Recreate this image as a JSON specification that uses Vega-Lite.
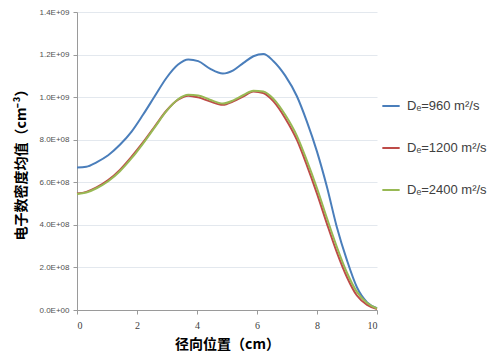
{
  "$schema": "https://vega.github.io/schema/vega-lite/v6.json",
  "width": 300,
  "height": 298,
  "autosize": {"type": "none"},
  "padding": {"left": 77, "top": 12, "right": 117, "bottom": 48},
  "background": "white",
  "data": {"values": [
    {"r":0,"n":0.669,"s":"Dₑ=960 m²/s"},{"r":0.31,"n":0.673,"s":"Dₑ=960 m²/s"},{"r":0.65,"n":0.694,"s":"Dₑ=960 m²/s"},{"r":1.04,"n":0.727,"s":"Dₑ=960 m²/s"},{"r":1.43,"n":0.776,"s":"Dₑ=960 m²/s"},{"r":1.82,"n":0.838,"s":"Dₑ=960 m²/s"},{"r":2.2,"n":0.917,"s":"Dₑ=960 m²/s"},{"r":2.59,"n":1.004,"s":"Dₑ=960 m²/s"},{"r":2.98,"n":1.09,"s":"Dₑ=960 m²/s"},{"r":3.37,"n":1.153,"s":"Dₑ=960 m²/s"},{"r":3.71,"n":1.177,"s":"Dₑ=960 m²/s"},{"r":4.04,"n":1.169,"s":"Dₑ=960 m²/s"},{"r":4.43,"n":1.134,"s":"Dₑ=960 m²/s"},{"r":4.86,"n":1.111,"s":"Dₑ=960 m²/s"},{"r":5.21,"n":1.126,"s":"Dₑ=960 m²/s"},{"r":5.55,"n":1.161,"s":"Dₑ=960 m²/s"},{"r":5.88,"n":1.192,"s":"Dₑ=960 m²/s"},{"r":6.21,"n":1.203,"s":"Dₑ=960 m²/s"},{"r":6.55,"n":1.169,"s":"Dₑ=960 m²/s"},{"r":6.94,"n":1.101,"s":"Dₑ=960 m²/s"},{"r":7.33,"n":1.004,"s":"Dₑ=960 m²/s"},{"r":7.66,"n":0.886,"s":"Dₑ=960 m²/s"},{"r":8.0,"n":0.744,"s":"Dₑ=960 m²/s"},{"r":8.33,"n":0.579,"s":"Dₑ=960 m²/s"},{"r":8.66,"n":0.39,"s":"Dₑ=960 m²/s"},{"r":9.0,"n":0.233,"s":"Dₑ=960 m²/s"},{"r":9.33,"n":0.107,"s":"Dₑ=960 m²/s"},{"r":9.67,"n":0.036,"s":"Dₑ=960 m²/s"},{"r":10,"n":0.009,"s":"Dₑ=960 m²/s"},
    {"r":0,"n":0.547,"s":"Dₑ=1200 m²/s"},{"r":0.31,"n":0.555,"s":"Dₑ=1200 m²/s"},{"r":0.65,"n":0.576,"s":"Dₑ=1200 m²/s"},{"r":1.04,"n":0.61,"s":"Dₑ=1200 m²/s"},{"r":1.43,"n":0.658,"s":"Dₑ=1200 m²/s"},{"r":1.82,"n":0.72,"s":"Dₑ=1200 m²/s"},{"r":2.2,"n":0.787,"s":"Dₑ=1200 m²/s"},{"r":2.59,"n":0.862,"s":"Dₑ=1200 m²/s"},{"r":2.98,"n":0.936,"s":"Dₑ=1200 m²/s"},{"r":3.37,"n":0.988,"s":"Dₑ=1200 m²/s"},{"r":3.71,"n":1.007,"s":"Dₑ=1200 m²/s"},{"r":4.04,"n":0.999,"s":"Dₑ=1200 m²/s"},{"r":4.43,"n":0.98,"s":"Dₑ=1200 m²/s"},{"r":4.86,"n":0.964,"s":"Dₑ=1200 m²/s"},{"r":5.21,"n":0.98,"s":"Dₑ=1200 m²/s"},{"r":5.55,"n":1.004,"s":"Dₑ=1200 m²/s"},{"r":5.88,"n":1.027,"s":"Dₑ=1200 m²/s"},{"r":6.21,"n":1.019,"s":"Dₑ=1200 m²/s"},{"r":6.55,"n":0.98,"s":"Dₑ=1200 m²/s"},{"r":6.94,"n":0.901,"s":"Dₑ=1200 m²/s"},{"r":7.33,"n":0.799,"s":"Dₑ=1200 m²/s"},{"r":7.66,"n":0.681,"s":"Dₑ=1200 m²/s"},{"r":8.0,"n":0.547,"s":"Dₑ=1200 m²/s"},{"r":8.33,"n":0.406,"s":"Dₑ=1200 m²/s"},{"r":8.66,"n":0.272,"s":"Dₑ=1200 m²/s"},{"r":9.0,"n":0.154,"s":"Dₑ=1200 m²/s"},{"r":9.33,"n":0.068,"s":"Dₑ=1200 m²/s"},{"r":9.67,"n":0.024,"s":"Dₑ=1200 m²/s"},{"r":10,"n":0.005,"s":"Dₑ=1200 m²/s"},
    {"r":0,"n":0.545,"s":"Dₑ=2400 m²/s"},{"r":0.31,"n":0.552,"s":"Dₑ=2400 m²/s"},{"r":0.65,"n":0.572,"s":"Dₑ=2400 m²/s"},{"r":1.04,"n":0.605,"s":"Dₑ=2400 m²/s"},{"r":1.43,"n":0.652,"s":"Dₑ=2400 m²/s"},{"r":1.82,"n":0.713,"s":"Dₑ=2400 m²/s"},{"r":2.2,"n":0.782,"s":"Dₑ=2400 m²/s"},{"r":2.59,"n":0.858,"s":"Dₑ=2400 m²/s"},{"r":2.98,"n":0.934,"s":"Dₑ=2400 m²/s"},{"r":3.37,"n":0.99,"s":"Dₑ=2400 m²/s"},{"r":3.71,"n":1.011,"s":"Dₑ=2400 m²/s"},{"r":4.04,"n":1.008,"s":"Dₑ=2400 m²/s"},{"r":4.43,"n":0.988,"s":"Dₑ=2400 m²/s"},{"r":4.86,"n":0.97,"s":"Dₑ=2400 m²/s"},{"r":5.21,"n":0.985,"s":"Dₑ=2400 m²/s"},{"r":5.55,"n":1.01,"s":"Dₑ=2400 m²/s"},{"r":5.88,"n":1.03,"s":"Dₑ=2400 m²/s"},{"r":6.21,"n":1.027,"s":"Dₑ=2400 m²/s"},{"r":6.55,"n":0.992,"s":"Dₑ=2400 m²/s"},{"r":6.94,"n":0.917,"s":"Dₑ=2400 m²/s"},{"r":7.33,"n":0.818,"s":"Dₑ=2400 m²/s"},{"r":7.66,"n":0.703,"s":"Dₑ=2400 m²/s"},{"r":8.0,"n":0.572,"s":"Dₑ=2400 m²/s"},{"r":8.33,"n":0.432,"s":"Dₑ=2400 m²/s"},{"r":8.66,"n":0.297,"s":"Dₑ=2400 m²/s"},{"r":9.0,"n":0.175,"s":"Dₑ=2400 m²/s"},{"r":9.33,"n":0.085,"s":"Dₑ=2400 m²/s"},{"r":9.67,"n":0.033,"s":"Dₑ=2400 m²/s"},{"r":10,"n":0.007,"s":"Dₑ=2400 m²/s"}
  ]},
  "mark": {"type": "line", "interpolate": "monotone", "strokeWidth": 2},
  "encoding": {
    "x": {
      "field": "r", "type": "quantitative",
      "scale": {"domain": [0, 10], "nice": false},
      "axis": {
        "values": [0, 2, 4, 6, 8, 10],
        "grid": false,
        "title": "径向位置（cm）",
        "titleFont": "Noto Sans CJK SC", "titleFontWeight": "bold", "titleFontSize": 14, "titleColor": "#000000",
        "titlePadding": 7,
        "labelFont": "Liberation Serif", "labelFontSize": 10, "labelColor": "#404040",
        "labelPadding": 6,
        "domainColor": "#9a9a9a", "tickColor": "#9a9a9a", "tickSize": 4
      }
    },
    "y": {
      "field": "n", "type": "quantitative",
      "scale": {"domain": [0, 1.4], "nice": false},
      "axis": {
        "values": [0, 0.2, 0.4, 0.6, 0.8, 1.0, 1.2, 1.4],
        "labelExpr": "upper(replace(format(datum.value * 1e9, '.1e'), 'e+', 'e+0'))",
        "grid": true, "gridColor": "#e3e8ee",
        "title": "电子数密度均值（cm⁻³）",
        "titleFont": "Noto Sans CJK SC", "titleFontWeight": "bold", "titleFontSize": 14, "titleColor": "#000000",
        "titlePadding": 10,
        "labelFont": "Liberation Sans", "labelFontSize": 8, "labelColor": "#505050",
        "labelPadding": 4,
        "domainColor": "#9a9a9a", "tickColor": "#9a9a9a", "tickSize": 4
      }
    },
    "color": {
      "field": "s", "type": "nominal",
      "sort": ["Dₑ=960 m²/s", "Dₑ=1200 m²/s", "Dₑ=2400 m²/s"],
      "scale": {"domain": ["Dₑ=960 m²/s", "Dₑ=1200 m²/s", "Dₑ=2400 m²/s"], "range": ["#4a7ebb", "#be4b48", "#98b954"]},
      "legend": {
        "title": null,
        "orient": "none",
        "legendX": 304,
        "legendY": 84,
        "symbolType": "stroke",
        "symbolSize": 300,
        "symbolStrokeWidth": 2,
        "rowPadding": 25,
        "labelFont": "Liberation Sans",
        "labelFontSize": 13,
        "labelColor": "#404040",
        "labelOffset": 6
      }
    }
  },
  "config": {"view": {"stroke": null}}
}
